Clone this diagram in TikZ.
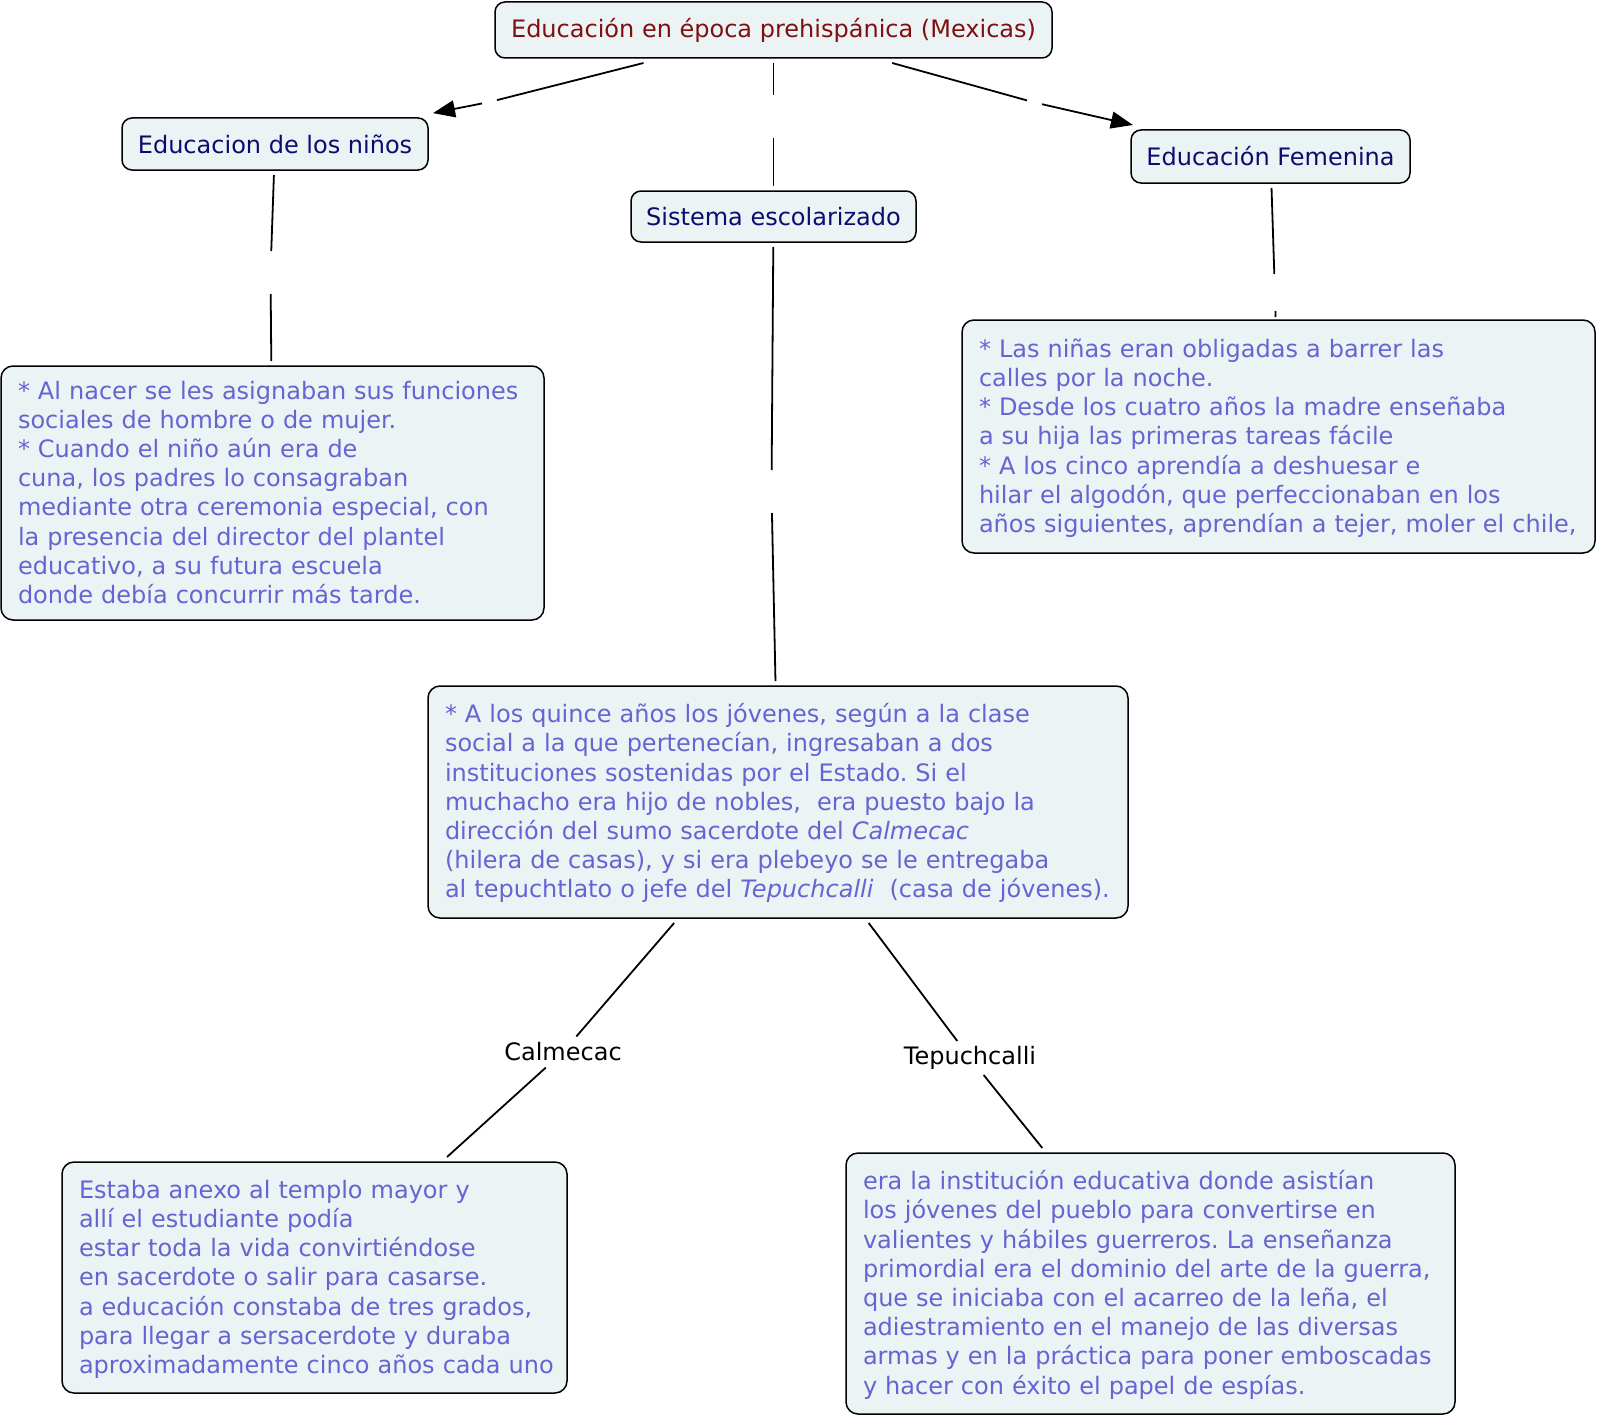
\documentclass[tikz,border=0pt]{standalone}
\usepackage{fontspec}
\setmainfont{DejaVu Sans}
\usetikzlibrary{arrows.meta}
\definecolor{boxfill}{RGB}{236,243,245}
\definecolor{toptext}{RGB}{128,16,16}
\definecolor{navytext}{RGB}{12,12,110}
\definecolor{bodytext}{RGB}{100,100,210}
\newcommand{\firstrow}{\rule{0pt}{25.5pt}}
\begin{document}
\frenchspacing
\begin{tikzpicture}[x=1pt,y=-1pt,
  every node/.style={font=\fontsize{24pt}{29.2pt}\selectfont},
  concept/.style={draw=black, line width=1.5pt, fill=boxfill, rounded corners=10pt, inner sep=0pt, outer sep=5pt},
  infobox/.style={concept, rounded corners=12pt, text=bodytext, align=left, inner xsep=17pt, inner ysep=0pt},
  gapnode/.style={inner sep=0pt, outer sep=0pt, minimum width=15pt, minimum height=43pt},
  linklabel/.style={inner xsep=4pt, inner ysep=0pt, outer sep=0pt, text=black},
  conn/.style={line width=1.8pt, draw=black},
  arr/.style={conn, -{Triangle[length=22pt,width=17pt]}}
]
\useasboundingbox (0,0) rectangle (1600,1418);

% concepts
\node[concept, text=toptext, minimum width=557pt, minimum height=56pt] (top) at (773.5,30) {Educación en época prehispánica (Mexicas)};
\node[concept, text=navytext, minimum width=306pt, minimum height=52pt] (ninos) at (275,144) {Educacion de los niños};
\node[concept, text=navytext, minimum width=285pt, minimum height=51pt] (sis) at (773.5,216.5) {Sistema escolarizado};
\node[concept, text=navytext, minimum width=279pt, minimum height=53pt] (fem) at (1270.5,156.5) {Educación Femenina};

% information boxes
\node[infobox, text width=509pt, minimum height=254pt] (bninos) at (272.5,493) {\begin{tabular}{@{}l@{}}
\firstrow{*} Al nacer se les asignaban sus funciones\\
sociales de hombre o de mujer.\\
{*} Cuando el niño aún era de\\
cuna, los padres lo consagraban\\
mediante otra ceremonia especial, con\\
la presencia del director del plantel\\
educativo, a su futura escuela\\
donde debía concurrir más tarde.
\end{tabular}};

\node[infobox, text width=599pt, minimum height=233pt] (bfem) at (1278.5,436.5) {\begin{tabular}{@{}l@{}}
\firstrow{*} Las niñas eran obligadas a barrer las\\
calles por la noche.\\
{*} Desde los cuatro años la madre enseñaba\\
a su hija las primeras tareas fácile\\
{*} A los cinco aprendía a deshuesar e\\
hilar el algodón, que perfeccionaban en los\\
años siguientes, aprendían a tejer, moler el chile,
\end{tabular}};

\node[infobox, text width=666pt, minimum height=232pt] (bcen) at (778,802) {\begin{tabular}{@{}l@{}}
\firstrow{*} A los quince años los jóvenes, según a la clase\\
social a la que pertenecían, ingresaban a dos\\
instituciones sostenidas por el Estado. Si el\\
muchacho era hijo de nobles,\ \ era puesto bajo la\\
dirección del sumo sacerdote del \textit{Calmecac}\\
{(}hilera de casas), y si era plebeyo se le entregaba\\
al tepuchtlato o jefe del \textit{Tepuchcalli}\ \ (casa de jóvenes).
\end{tabular}};

\node[infobox, text width=471pt, minimum height=231pt] (bcalm) at (314.5,1277.5) {\begin{tabular}{@{}l@{}}
\firstrow Estaba anexo al templo mayor y\\
allí el estudiante podía\\
estar toda la vida convirtiéndose\\
en sacerdote o salir para casarse.\\
a educación constaba de tres grados,\\
para llegar a sersacerdote y duraba\\
aproximadamente cinco años cada uno
\end{tabular}};

\node[infobox, text width=575pt, minimum height=261pt] (btep) at (1150.5,1283.5) {\begin{tabular}{@{}l@{}}
\firstrow era la institución educativa donde asistían\\
los jóvenes del pueblo para convertirse en\\
valientes y hábiles guerreros. La enseñanza\\
primordial era el dominio del arte de la guerra,\\
que se iniciaba con el acarreo de la leña, el\\
adiestramiento en el manejo de las diversas\\
armas y en la práctica para poner emboscadas\\
y hacer con éxito el papel de espías.
\end{tabular}};

% empty linking phrases
\node[gapnode] (g1) at (489.5,102) {};
\node[gapnode] (g2) at (773.5,116.5) {};
\node[gapnode] (g3) at (1034.5,102.5) {};
\node[gapnode] (g4) at (270.5,272.5) {};
\node[gapnode] (g5) at (771.5,491.5) {};
\node[gapnode] (g6) at (1275,295.5) {};

% linking phrases with text
\node[linklabel, minimum height=31pt] (calm) at (563,1052) {Calmecac};
\node[linklabel, minimum height=34pt] (tep) at (970,1058) {Tepuchcalli};

% connectors
\draw[conn] (top) -- (g1); \draw[arr] (g1) -- (ninos);
\draw[conn] (top) -- (g2); \draw[conn] (g2) -- (sis);
\draw[conn] (top) -- (g3); \draw[arr] (g3) -- (fem);
\draw[conn] (ninos) -- (g4); \draw[conn] (g4) -- (bninos);
\draw[conn] (sis) -- (g5); \draw[conn] (g5) -- (bcen);
\draw[conn] (fem) -- (g6); \draw[conn, shorten >=-4pt] (g6) -- (bfem);
\draw[conn] (bcen) -- (calm); \draw[conn] (calm) -- (bcalm);
\draw[conn] (bcen) -- (tep); \draw[conn] (tep) -- (btep);
\end{tikzpicture}
\end{document}
